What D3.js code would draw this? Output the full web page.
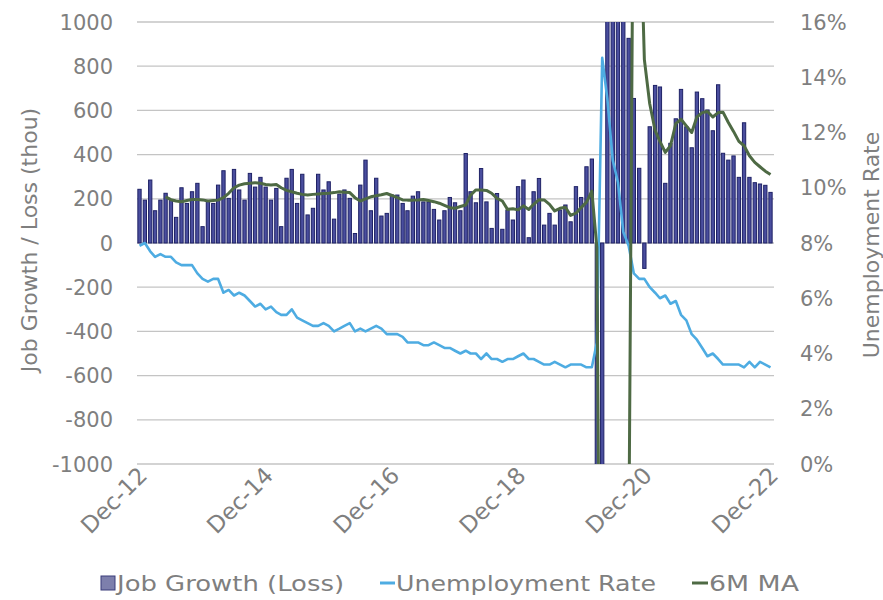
<!DOCTYPE html>
<html><head><meta charset="utf-8">
<script src="https://cdn.jsdelivr.net/npm/d3@7"></script>
<style>
body{margin:0;background:#fff}
text{font-family:"DejaVu Sans",Verdana,sans-serif;fill:#7f7f7f}
</style>
</head><body>
<svg id="chart" width="883" height="600"></svg>
<script>
// ---------- data (monthly, Dec-2012 .. Dec-2022) ----------
const startMonth = "2012-12";
const endMonth = "2022-12";
const tickLabels = ["Dec-12","Dec-14","Dec-16","Dec-18","Dec-20","Dec-22"];
const leftTicks = [-1000,-800,-600,-400,-200,0,200,400,600,800,1000];
const rightTicks = [0,0.02,0.04,0.06,0.08,0.10,0.12,0.14,0.16];

const jobGrowth = [
  243,
  194,285,146,194,225,194,116,250,179,232,270,74,
  190,179,262,327,202,333,240,194,315,253,297,253,
  194,247,74,293,333,179,311,127,157,311,240,277,
  108,221,240,202,43,262,375,146,293,122,134,217,
  217,179,146,212,232,186,186,152,104,146,206,182,
  146,405,232,182,337,186,66,224,62,149,104,255,
  285,24,232,292,81,134,81,149,172,96,255,206,
  345,380,-1373,-20679,2833,4781,1726,1489,926,654,338,-115,
  526,713,706,270,451,562,695,526,431,683,653,602,
  508,716,406,375,394,297,544,297,273,267,261,229
];

const unemployment = [
  7.9,
  8.0,7.7,7.5,7.6,7.5,7.5,7.3,7.2,7.2,7.2,6.9,6.7,
  6.6,6.7,6.7,6.2,6.3,6.1,6.2,6.1,5.9,5.7,5.8,5.6,
  5.7,5.5,5.4,5.4,5.6,5.3,5.2,5.1,5.0,5.0,5.1,5.0,
  4.8,4.9,5.0,5.1,4.8,4.9,4.8,4.9,5.0,4.9,4.7,4.7,
  4.7,4.6,4.4,4.4,4.4,4.3,4.3,4.4,4.3,4.2,4.2,4.1,
  4.0,4.1,4.0,4.0,3.8,4.0,3.8,3.8,3.7,3.8,3.8,3.9,
  4.0,3.8,3.8,3.7,3.6,3.6,3.7,3.6,3.5,3.6,3.6,3.6,
  3.5,3.5,4.4,14.7,13.2,11.0,10.2,8.4,7.9,6.9,6.7,6.7,
  6.4,6.2,6.0,6.1,5.8,5.9,5.4,5.2,4.7,4.5,4.2,3.9,
  4.0,3.8,3.6,3.6,3.6,3.6,3.5,3.7,3.5,3.7,3.6,3.5
];

const movingAvg6M = [
  null,
  null,null,null,null,209,196,190,187,192,197,197,195,
  190,192,194,205,225,250,262,268,270,273,270,265,
  262,265,250,238,232,225,220,217,220,222,224,225,
  228,232,230,228,205,190,200,209,214,218,224,215,
  205,195,194,194,195,197,192,187,180,170,160,157,
  165,172,217,240,240,238,225,202,190,152,155,150,
  168,152,175,196,195,175,145,157,162,125,135,160,
  185,235,-20,-3450,-3000,-2250,-2050,-1870,-1490,2070,1650,830,
  630,510,460,410,440,540,560,530,500,570,590,595,
  570,590,592,545,505,460,440,395,365,345,325,310
];

const seriesNames = ["Job Growth (Loss)","Unemployment Rate","6M MA"];
const leftTitle = "Job Growth / Loss (thou)";
const rightTitle = "Unemployment Rate";

// ---------- chart ----------
const svg = d3.select("#chart");
const parseM = d3.timeParse("%Y-%m");
const months = d3.timeMonth.range(parseM(startMonth), d3.timeMonth.offset(parseM(endMonth),1));
const tickDates = tickLabels.map(d => d3.timeParse("%b-%y")(d));

const plot = {left:137, right:774, top:22, bottom:464};
const x = d3.scaleTime().domain([parseM(startMonth), parseM(endMonth)]).range([139.5, 770.5]);
const yL = d3.scaleLinear().domain([-1000,1000]).range([plot.bottom, plot.top]);
const yR = d3.scaleLinear().domain([0,0.16]).range([plot.bottom, plot.top]);

svg.append("defs").append("clipPath").attr("id","clip")
  .append("rect").attr("x",plot.left).attr("y",plot.top)
  .attr("width",plot.right-plot.left).attr("height",plot.bottom-plot.top);

// gridlines
svg.append("g").selectAll("line").data(leftTicks).join("line")
  .attr("x1",plot.left).attr("x2",plot.right)
  .attr("y1",d=>yL(d)).attr("y2",d=>yL(d))
  .attr("stroke","#c4c4c4").attr("stroke-width",1.3);

const g = svg.append("g").attr("clip-path","url(#clip)");

// bars
const bw = 3.3;
g.append("g").selectAll("rect").data(jobGrowth).join("rect")
  .attr("x",(d,i)=>x(months[i]) - bw/2)
  .attr("y",d=>yL(Math.max(0,d)))
  .attr("width",bw)
  .attr("height",d=>Math.abs(yL(d)-yL(0)))
  .attr("fill","#4a4e9e").attr("stroke","#1f2266").attr("stroke-width",1);

// unemployment line
g.append("path").datum(unemployment)
  .attr("fill","none").attr("stroke","#4eace2").attr("stroke-width",2.6)
  .attr("stroke-linejoin","round")
  .attr("d", d3.line().x((d,i)=>x(months[i])).y(d=>yR(d/100)));

// moving average line
g.append("path").datum(movingAvg6M)
  .attr("fill","none").attr("stroke","#4e6a44").attr("stroke-width",3)
  .attr("stroke-linejoin","round")
  .attr("d", d3.line().defined(d=>d!==null).x((d,i)=>x(months[i])).y(d=>yL(d)));

// left axis labels
const fs = 21;
svg.append("g").selectAll("text").data(leftTicks).join("text")
  .attr("x",113).attr("y",d=>yL(d)).attr("dy","0.36em")
  .attr("text-anchor","end").attr("font-size",fs).text(d=>d);

// right axis labels
svg.append("g").selectAll("text").data(rightTicks).join("text")
  .attr("x",800).attr("y",d=>yR(d)).attr("dy","0.36em")
  .attr("text-anchor","start").attr("font-size",fs).text(d=>d3.format(".0%")(d));

// x axis labels
const xAxis = d3.axisBottom(x).tickValues(tickDates).tickFormat(d3.timeFormat("%b-%y")).tickSize(0);
const xg = svg.append("g").attr("transform",`translate(0,${plot.bottom+10})`).call(xAxis);
xg.select(".domain").remove();
xg.selectAll("text")
  .attr("font-size",23).attr("fill","#7f7f7f")
  .style("font-family",'"DejaVu Sans",Verdana,sans-serif')
  .attr("text-anchor","end").attr("dy","0.35em").attr("y",0).attr("x",4)
  .attr("transform","rotate(-45)");

// axis titles
svg.append("text").attr("transform","translate(37,240) rotate(-90)")
  .attr("text-anchor","middle").attr("font-size",22).text(leftTitle);
svg.append("text").attr("transform","translate(879,245) rotate(-90)")
  .attr("text-anchor","middle").attr("font-size",22).text(rightTitle);

// legend
const ly = 583, lfs = 22;
const leg = svg.append("g");
leg.append("rect").attr("x",101).attr("y",ly-7).attr("width",14).attr("height",14)
  .attr("fill","#7d7fac").attr("stroke","#3a3d7a").attr("stroke-width",1);
leg.append("text").attr("x",117).attr("y",ly).attr("dy","0.36em").attr("font-size",lfs)
  .attr("textLength",227).attr("lengthAdjust","spacingAndGlyphs").text(seriesNames[0]);
leg.append("line").attr("x1",380).attr("x2",395).attr("y1",ly).attr("y2",ly)
  .attr("stroke","#4eace2").attr("stroke-width",3);
leg.append("text").attr("x",396).attr("y",ly).attr("dy","0.36em").attr("font-size",lfs)
  .attr("textLength",260).attr("lengthAdjust","spacingAndGlyphs").text(seriesNames[1]);
leg.append("line").attr("x1",692).attr("x2",708).attr("y1",ly).attr("y2",ly)
  .attr("stroke","#4e6a44").attr("stroke-width",3);
leg.append("text").attr("x",709).attr("y",ly).attr("dy","0.36em").attr("font-size",lfs)
  .attr("textLength",90).attr("lengthAdjust","spacingAndGlyphs").text(seriesNames[2]);
</script>
</body></html>
